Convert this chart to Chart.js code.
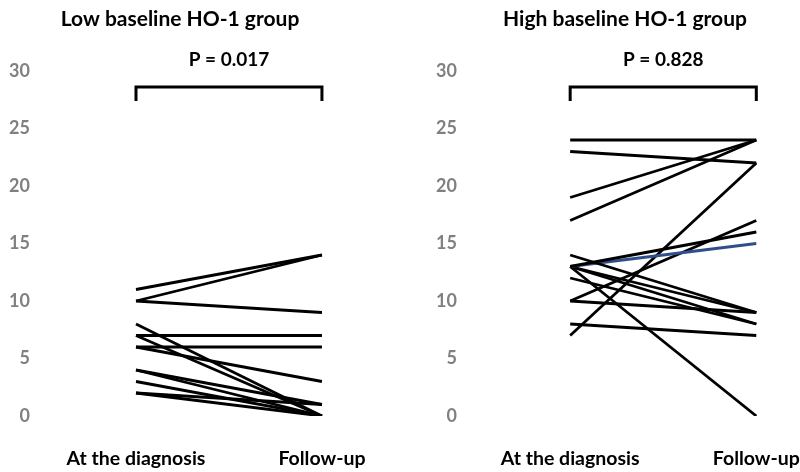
<!DOCTYPE html>
<html lang="en">
<head>
    <meta charset="UTF-8">
    <title>HO-1 groups</title>
    <script src="https://cdn.jsdelivr.net/npm/chart.js@4.2.0/dist/chart.umd.min.js"></script>
    <style>
        html, body { margin: 0; padding: 0; background: #fff; }
        .wrap { display: flex; width: 800px; height: 472px; }
        .panel { position: relative; width: 400px; height: 472px; }
    </style>
</head>
<body>
    <div class="wrap">
        <div class="panel"><canvas id="low-chart"></canvas></div>
        <div class="panel"><canvas id="high-chart"></canvas></div>
    </div>
    <script>
        // time points
        const timeLabels = ['At the diagnosis', 'Follow-up'];
        const yTicks = [0, 5, 10, 15, 20, 25, 30];

        // low baseline HO-1 group (at diagnosis -> follow-up)
        const lowStart = [11, 10, 10, 8, 7, 7, 6, 6, 4, 4, 3, 2, 2];
        const lowEnd   = [14, 14, 9, 0, 7, 0, 6, 3, 1, 0, 0, 1, 0];

        // high baseline HO-1 group
        const highStart = [24, 23, 19, 17, 14, 13, 13, 13, 13, 13, 12, 10, 10, 8, 7];
        const highEnd   = [24, 22, 24, 24, 9, 16, 15, 9, 8, 0, 8, 9, 17, 7, 22];
        const highBlue = 6; // the one blue line

        const titles = ['Low baseline HO-1 group', 'High baseline HO-1 group'];
        const pValues = ['P = 0.017', 'P = 0.828'];

        const FONT = 'Lato, "Open Sans", sans-serif';

        function makeSets(starts, ends, blueIdx) {
            return starts.map(function (s, i) {
                const col = i === blueIdx ? '#2f4f8a' : '#000000';
                return {
                    data: [{ x: 0, y: s }, { x: 1, y: ends[i] }],
                    borderColor: col,
                    borderWidth: 2.8,
                    pointRadius: 0,
                    fill: false,
                    tension: 0
                };
            });
        }

        // title, bracket and p value
        const annot = {
            id: 'annot',
            afterDraw: function (chart, args, opts) {
                const c = chart.ctx;
                const xs = chart.scales.x;
                const x0 = xs.getPixelForValue(0);
                const x1 = xs.getPixelForValue(1);
                c.save();
                c.fillStyle = '#000';
                c.textAlign = 'center';
                c.textBaseline = 'middle';
                c.font = 'bold 21px ' + FONT;
                c.fillText(opts.title, opts.titleX, 19);
                c.font = 'bold 19px ' + FONT;
                c.fillText(opts.p, (x0 + x1) / 2, 60);
                c.strokeStyle = '#000';
                c.lineWidth = 3;
                c.lineJoin = 'miter';
                c.beginPath();
                c.moveTo(x0, 101);
                c.lineTo(x0, 87);
                c.lineTo(x1, 87);
                c.lineTo(x1, 101);
                c.stroke();
                c.restore();
            }
        };

        function makeChart(id, starts, ends, blueIdx, yWidth, xMin, xMax, title, titleX, p) {
            return new Chart(document.getElementById(id), {
                type: 'line',
                data: { datasets: makeSets(starts, ends, blueIdx) },
                options: {
                    responsive: true,
                    maintainAspectRatio: false,
                    animation: false,
                    layout: { padding: { top: 71, bottom: 3, left: 0, right: 10 } },
                    plugins: {
                        legend: { display: false },
                        tooltip: { enabled: false },
                        annot: { title: title, titleX: titleX, p: p }
                    },
                    scales: {
                        x: {
                            type: 'linear',
                            min: xMin,
                            max: xMax,
                            grid: { display: false, drawTicks: false },
                            border: { display: false },
                            afterBuildTicks: function (s) { s.ticks = [{ value: 0 }, { value: 1 }]; },
                            afterFit: function (s) {
                                s.height = 53;
                                s.paddingLeft = 0;
                                s.paddingRight = 0;
                            },
                            ticks: {
                                padding: 31,
                                maxRotation: 0,
                                color: '#000',
                                font: { family: FONT, size: 19.5, weight: 'bold' },
                                callback: function (v) { return timeLabels[v]; }
                            }
                        },
                        y: {
                            min: 0,
                            max: 30,
                            grid: { display: false, drawTicks: false },
                            border: { display: false },
                            afterBuildTicks: function (s) { s.ticks = yTicks.map(function (v) { return { value: v }; }); },
                            afterFit: function (s) { s.width = yWidth; s.paddingTop = 0; s.paddingBottom = 0; },
                            ticks: {
                                padding: 8,
                                color: '#808080',
                                font: { family: FONT, size: 18, weight: 'bold' }
                            }
                        }
                    }
                },
                plugins: [annot]
            });
        }

        makeChart('low-chart', lowStart, lowEnd, -1, 38, -0.527, 1.366, titles[0], 180, pValues[0]);
        makeChart('high-chart', highStart, highEnd, highBlue, 65, -0.565, 1.181, titles[1], 225, pValues[1]);
    </script>
</body>
</html>
